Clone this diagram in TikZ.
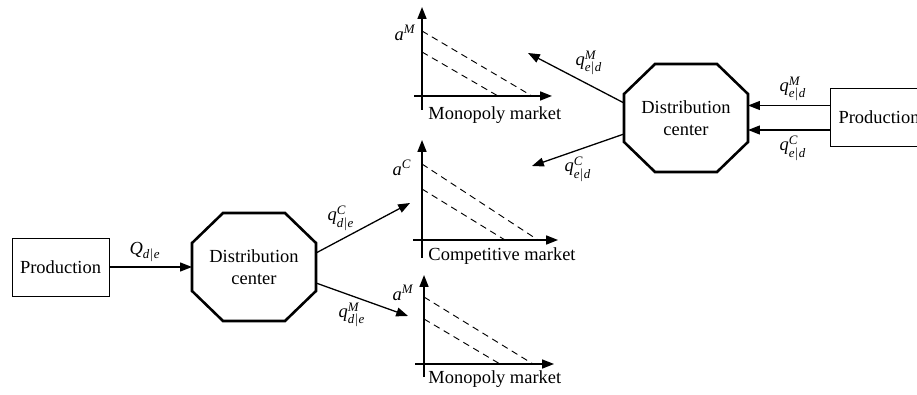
\documentclass[tikz,border=0pt]{standalone}
\usepackage{amsmath}
\usepackage{fontspec}
\setmainfont{Liberation Serif}
\usetikzlibrary{arrows.meta,positioning,calc}
\newcommand{\flow}[4]{$\textit{#1}^{\textit{#2}}_{\textit{#3}|\textit{#4}}$}
% octagon drawn round a distribution-centre node
\newcommand{\octline}[1]{%
  \draw[line width=1.4pt, line join=miter]
    ($(#1.north west)+(31,0)$) -- ($(#1.north east)+(-31,0)$) --
    ($(#1.north east)+(0,30)$) -- ($(#1.south east)+(0,-30)$) --
    ($(#1.south east)+(-31,0)$) -- ($(#1.south west)+(31,0)$) --
    ($(#1.south west)+(0,-30)$) -- ($(#1.north west)+(0,30)$) -- cycle;}
\tikzset{
  prodbox/.style={draw, line width=0.5pt, minimum width=52.6pt, minimum height=31.4pt, inner sep=0pt},
  dcbox/.style={minimum width=67.2pt, minimum height=58.5pt, inner sep=0pt, outer sep=0pt, align=center},
  axis/.style={->, line width=0.9pt},
  mktlbl/.style={anchor=west, inner xsep=1pt},
  demand/.style={dash pattern=on 3.6pt off 2.6pt, line width=0.5pt},
}

\begin{document}
\begin{tikzpicture}[x=0.542pt, y=-0.542pt, >={Triangle[length=6.4pt,width=4.8pt]}, line width=0.7pt]
  \useasboundingbox (0,0) rectangle (917,395);
  % domestic side
  \node[prodbox] (prodL) at (60.5,267) {Production};
  \node[dcbox] (dcL) at (254,267) {Distribution\\center};
  \octline{dcL}
  \draw[->] (prodL) -- (dcL);
  \node (Qde) at (145,252) {$\textit{Q}_{\textit{d}|\textit{e}}$};
  \coordinate (tipC) at (410,203);
  \coordinate (tipM) at (408,316);
  \draw[->] ($(dcL.east)+(0,-14)$) -- (tipC);
  \draw[->] ($(dcL.east)+(0,16)$) -- (tipM);
  \node (qdeC) at (341,218) {\flow{q}{C}{d}{e}};
  \node (qdeM) at (352,315) {\flow{q}{M}{d}{e}};
  % foreign side
  \node[dcbox] (dcR) at (686,118) {Distribution\\center};
  \octline{dcR}
  \node[prodbox] (prodR) at (879,117.5) {Production};
  \draw[->] ($(prodR.west)+(0,-12)$) coordinate (inM) -- (inM -| dcR.east);
  \draw[->] ($(prodR.west)+(0,12.5)$) coordinate (inC) -- (inC -| dcR.east);
  \node (qedMin) at (793,89) {\flow{q}{M}{e}{d}};
  \node (qedCin) at (793,148) {\flow{q}{C}{e}{d}};
  \coordinate (tipRM) at (528,53);
  \coordinate (tipRC) at (532,166);
  \draw[->] ($(dcR.west)+(0,-15)$) -- (tipRM);
  \draw[->] ($(dcR.west)+(0,16)$) -- (tipRC);
  \node (qedM) at (589,63) {\flow{q}{M}{e}{d}};
  \node (qedC) at (578,169) {\flow{q}{C}{e}{d}};
  % monopoly market (top)
  \draw[axis] (422,110) -- (422,7);
  \draw[axis] (414,96) -- (552,96);
  \draw[demand] (422,31) -- (532,96);
  \draw[demand] (422,52) -- (498,96);
  \node (aMtop) at (405,33) {$\textit{a}^{\textit{M}}$};
  \node[mktlbl] (mktTop) at (426,115) {Monopoly market};
  % competitive market
  \draw[axis] (422,258) -- (422,140);
  \draw[axis] (413,240) -- (558,240);
  \draw[demand] (422,164) -- (538,240);
  \draw[demand] (422,189) -- (505,240);
  \node (aC) at (402,168) {$\textit{a}^{\textit{C}}$};
  \node[mktlbl] (mktComp) at (426,256) {Competitive market};
  % monopoly market (bottom)
  \draw[axis] (424,377) -- (424,275);
  \draw[axis] (415,364) -- (554,364);
  \draw[demand] (424,297) -- (533,364);
  \draw[demand] (424,319) -- (500,364);
  \node (aMbot) at (403,293) {$\textit{a}^{\textit{M}}$};
  \node[mktlbl] (mktBot) at (426,379) {Monopoly market};
\end{tikzpicture}
\end{document}
